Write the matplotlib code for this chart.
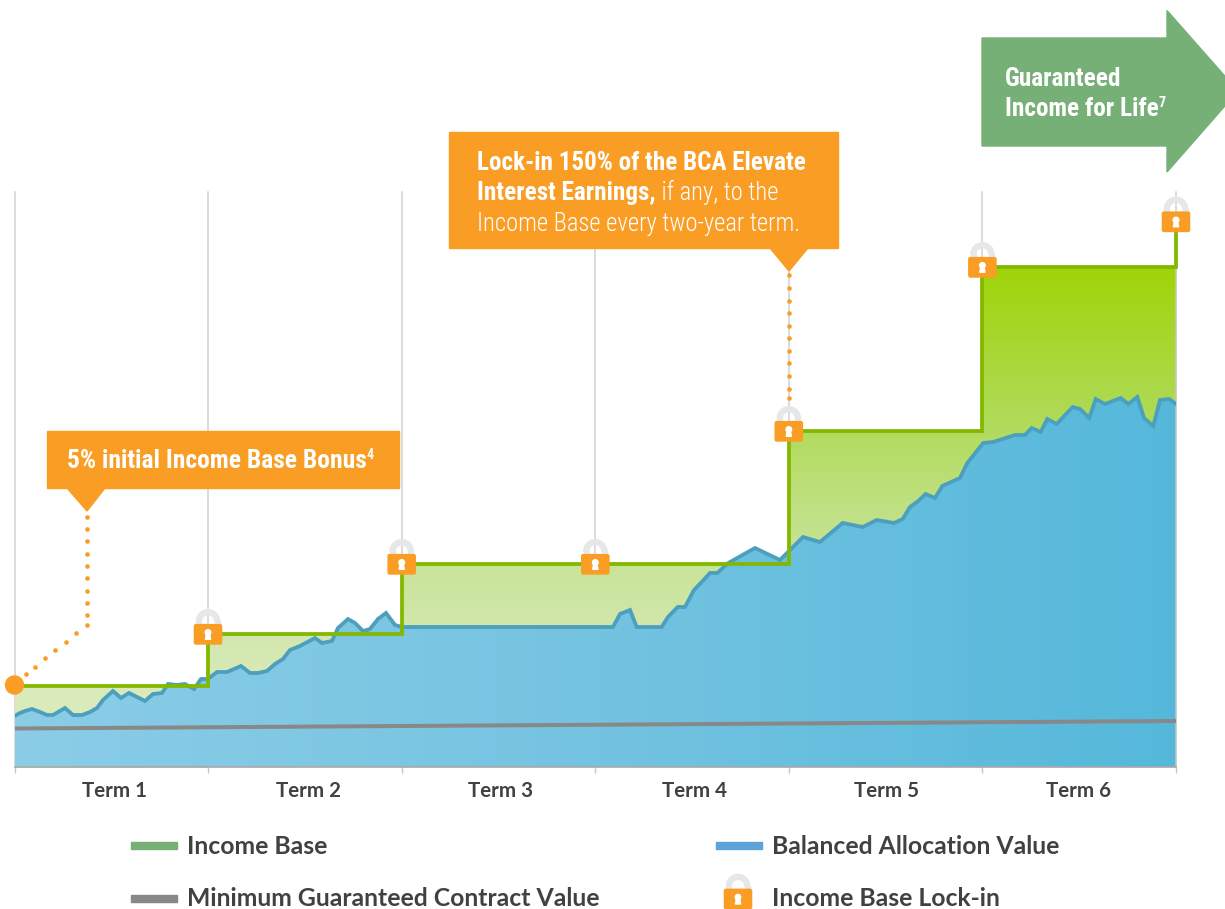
import matplotlib
matplotlib.use('Agg')
import matplotlib.pyplot as plt
import numpy as np
from matplotlib.colors import LinearSegmentedColormap
from matplotlib.patches import Polygon, Rectangle, FancyBboxPatch, Circle, Wedge

W, H = 1225, 909
BASE_Y, TOP_Y = 767, 192

# x axis runs along the chart width, values are heights above the baseline
term_edges = [14.5, 208, 401.7, 595.3, 788.8, 982.4, 1176]
term_centers = [114.5, 308, 500.5, 694, 887, 1079]
term_labels = ['Term 1', 'Term 2', 'Term 3', 'Term 4', 'Term 5', 'Term 6']

balance_x = [14.5, 20, 25, 32, 40, 47, 53, 65, 73, 82, 90, 97, 103, 113, 121, 129, 137, 145, 153, 162,
             168, 177, 185, 194, 201, 208, 217, 227, 241, 250, 258, 267, 275, 283, 290, 300, 315, 322,
             332, 338, 348, 355, 363, 370, 378, 386, 395, 402, 613, 620, 630, 636.7, 661.7, 668, 677.7,
             685, 694, 701.7, 710, 717.3, 728.3, 755, 780, 803, 820, 842.7, 862.7, 876.7, 894, 902.7,
             910, 918.3, 925.7, 935, 942.3, 960, 967.3, 983.3, 993.3, 1015, 1025, 1031.7, 1040.7, 1047.3,
             1056.7, 1072.7, 1080, 1089.3, 1095.7, 1105, 1120.7, 1128.3, 1137.3, 1144, 1153.3, 1160,
             1169, 1176]
balance_v = [51, 54, 56, 58, 55, 52, 52, 59, 52, 52, 55, 59, 67, 76, 69, 74, 70, 66, 73, 74,
             83, 82, 83, 78, 88, 88, 95, 95, 101, 94, 94, 96, 103, 108, 117, 121, 129, 124,
             126, 139, 148, 144, 136, 138, 148, 154, 142, 140, 140, 153, 157, 140, 140, 150, 160,
             160, 177, 185, 194, 194, 204, 219, 207, 230, 225, 244, 240, 247, 244, 248,
             260, 266, 273, 269, 281, 289, 304, 324, 325, 332, 332, 339, 335, 348,
             343, 360, 358, 349, 368, 363, 369, 363, 370, 349, 341, 367,
             368, 363]

income_x = [14.5, 208, 401.7, 788.8, 982.4, 1176, 1176]
income_v = [81, 133, 203, 336, 500, 500, 545]

floor_x = [16, 1176]
floor_v = [38.5, 46]

lock_x = [208, 401.7, 595.3, 788.8, 982.4, 1176]
lock_v = [133, 203, 203, 336, 500, 545.5]

# leader dots, picture pixels
dots_x = [26, 34.7, 45, 55, 65.7, 76, 86.7, 86.7, 86.7, 86.7, 86.7, 86.7, 86.7, 86.7, 86.7, 86.7]
dots_y = [673.7, 666.7, 658, 650, 641.7, 633, 625, 615.3, 603, 590.7, 578.3, 566, 553.7, 541.3, 529, 516.7]
dots2_y = [275.3, 288, 300.7, 313, 325.7, 338.3, 350.7, 363, 376, 388.7, 398.3]

ORANGE = '#f99d25'
TEXT = '#414042'
NARROW = ['Roboto Condensed', 'DejaVu Sans']
px = 0.72  # points per pixel at dpi 100

fig = plt.figure(figsize=(W / 100, H / 100), dpi=100)
fig.patch.set_facecolor('white')

# chart axes
ax = fig.add_axes([term_edges[0] / W, 1 - BASE_Y / H, (term_edges[-1] - term_edges[0]) / W, (BASE_Y - TOP_Y) / H])
ax.set_xlim(term_edges[0], term_edges[-1])
ax.set_ylim(0, BASE_Y - TOP_Y)
for s in ['top', 'left', 'right']:
    ax.spines[s].set_visible(False)
ax.spines['bottom'].set_color('#a8a8a8')
ax.spines['bottom'].set_linewidth(1.2)
ax.spines['bottom'].set_zorder(7)
ax.set_yticks([])
ax.set_xticks(term_edges)
ax.set_xticklabels([])
ax.tick_params(axis='x', which='major', length=4, width=1, color='#c8c8c8')
ax.set_xticks(term_centers, minor=True)
ax.set_xticklabels(term_labels, minor=True, fontfamily='Lato', fontweight='bold', fontsize=14.8, color=TEXT)
ax.tick_params(axis='x', which='minor', length=0, pad=10)

for x in term_edges:
    ax.plot([x, x], [0, BASE_Y - TOP_Y], color='#d2d2d2', lw=1.1, zorder=1, clip_on=False)

# green area with a vertical gradient
green = LinearSegmentedColormap.from_list('g', ['#d9eabb', '#c6e394', '#aeda52', '#a0d408'])
step_x, step_v = [term_edges[0]], [0]
for i in range(len(income_x) - 2):
    step_x += [income_x[i], income_x[i + 1]]
    step_v += [income_v[i], income_v[i]]
step_x.append(term_edges[-1])
step_v.append(0)
grad = np.linspace(1, 0, 256).reshape(-1, 1)
im = ax.imshow(grad, cmap=green, aspect='auto', extent=(term_edges[0], term_edges[-1], 80, 500), zorder=2)
im.set_clip_path(Polygon(np.column_stack([step_x, step_v]), transform=ax.transData))
ax.fill_between(step_x[:3], 0, 81, color='#d9eabb', zorder=1.5)

# blue area with a horizontal gradient
blue = LinearSegmentedColormap.from_list('b', ['#8bcde7', '#74c3e1', '#55b8db'])
im2 = ax.imshow(np.linspace(0, 1, 256).reshape(1, -1), cmap=blue, aspect='auto',
                extent=(term_edges[0], term_edges[-1], 0, 575), zorder=3)
poly = [(balance_x[0], 0)] + list(zip(balance_x, balance_v)) + [(balance_x[-1], 0)]
im2.set_clip_path(Polygon(poly, transform=ax.transData))
ax.set_xlim(term_edges[0], term_edges[-1])
ax.set_ylim(0, BASE_Y - TOP_Y)

ax.plot([term_edges[-1]] * 2, [0, 500], color='#c8c8c8', lw=1.2, alpha=0.8, zorder=3.5, clip_on=False)
ax.plot(balance_x, balance_v, color='#4c9fbd', lw=3.8 * px, zorder=4, solid_joinstyle='miter')
ax.plot(floor_x, floor_v, color='#888888', lw=4 * px, zorder=5)
ax.plot(income_x, income_v, drawstyle='steps-post', color='#84b800', lw=3.8 * px, zorder=6,
        solid_joinstyle='miter', clip_on=False)

# overlay in picture pixels for callouts, locks and legend
ov = fig.add_axes([0, 0, 1, 1], zorder=10)
ov.set_xlim(0, W)
ov.set_ylim(H, 0)
ov.axis('off')
ov.patch.set_alpha(0)


def draw_lock(cx, cy):
    # shackle
    ov.add_patch(Wedge((cx, cy - 13), 11.6, 180, 360, width=5, color='#e6e7e9', zorder=20))
    ov.add_patch(Rectangle((cx - 11.6, cy - 13), 5, 5, color='#e6e7e9', zorder=20))
    ov.add_patch(Rectangle((cx + 6.6, cy - 13), 5, 5, color='#e6e7e9', zorder=20))
    # body
    ov.add_patch(FancyBboxPatch((cx - 13.6, cy - 9.7), 27.2, 19.4, boxstyle='round,pad=0,rounding_size=1.6',
                                mutation_aspect=1, fc=ORANGE, ec=ORANGE, lw=1, zorder=21))
    # keyhole
    ov.add_patch(Circle((cx, cy - 1.8), 2.8, color='white', zorder=22))
    ov.add_patch(Polygon([(cx - 1.4, cy - 1.5), (cx + 1.4, cy - 1.5), (cx + 2.6, cy + 5), (cx - 2.6, cy + 5)],
                         color='white', zorder=22))


for x, v in zip(lock_x, lock_v):
    draw_lock(x, BASE_Y - v + 0.3)

# start marker
ov.add_patch(Circle((14.5, 685), 9, color=ORANGE, zorder=15, clip_on=False))

# dotted leaders
ov.scatter(dots_x, dots_y, s=11, color=ORANGE, linewidths=0, zorder=12)
ov.scatter([788.8] * len(dots2_y), dots2_y, s=11, color=ORANGE, linewidths=0, zorder=12)
ov.set_xlim(0, W)
ov.set_ylim(H, 0)


def rich_line(x, y, parts, color='white'):
    # parts are (text, weight, size, rise)
    r = fig.canvas.get_renderer()
    for s, weight, size, rise in parts:
        t = ov.text(x, y - rise, s, fontfamily=NARROW, fontweight=weight, fontsize=size, color=color,
                    va='baseline', ha='left', zorder=31)
        x = ov.transData.inverted().transform(t.get_window_extent(r).get_points())[1][0]


# first callout
ov.add_patch(Rectangle((47, 431), 352, 57, color=ORANGE, zorder=30))
ov.add_patch(Polygon([(67, 488), (105, 488), (87, 511)], color=ORANGE, zorder=30))
rich_line(67, 468, [('5% initial Income Base Bonus', 700, 18.4, 0), ('4', 700, 10, 9)])

# second callout
ov.add_patch(Rectangle((449, 132), 389, 116, color=ORANGE, zorder=30))
ov.add_patch(Polygon([(770, 248), (808, 248), (789, 271)], color=ORANGE, zorder=30))
rich_line(477, 170, [('Lock-in 150% of the BCA Elevate', 700, 18.1, 0)])
rich_line(477, 200, [('Interest Earnings,', 700, 18.1, 0), (' if any, to the', 300, 17.7, 0)])
rich_line(477, 231, [('Income Base every two-year term.', 300, 17.7, 0)])

# arrow
ov.add_patch(Polygon([(982, 38), (1167, 38), (1167, 10.5), (1238, 91), (1167, 172), (1167, 146), (982, 146)],
                     color='#77b077', zorder=30))
rich_line(1005, 86, [('Guaranteed', 700, 18.2, 0)])
rich_line(1005, 116, [('Income for Life', 700, 18.2, 0), ('7', 700, 10, 9)])

# legend
legend_rows = [
    (131, 845, 'Income Base', '#77b077'),
    (716, 845, 'Balanced Allocation Value', '#5ba3d9'),
    (131, 898, 'Minimum Guaranteed Contract Value', '#888888'),
]
for x, y, name, col in legend_rows:
    ov.add_patch(Rectangle((x, y - 3.5), 46, 7, color=col, zorder=5))
    ov.text(x + 56, y + 1, name, fontfamily='Lato', fontweight='bold', fontsize=17.8, color=TEXT, va='center', ha='left')
draw_lock(738, 899)
ov.text(772, 899, 'Income Base Lock-in', fontfamily='Lato', fontweight='bold', fontsize=17.8, color=TEXT,
        va='center', ha='left')

plt.savefig('out.png', dpi=100)
plt.close()
